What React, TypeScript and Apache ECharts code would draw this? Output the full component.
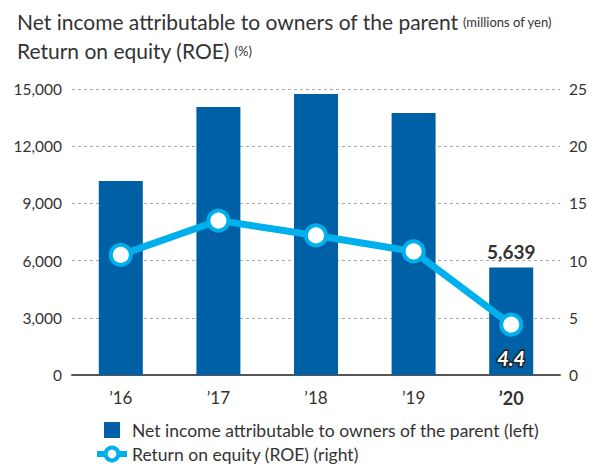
import React, { useEffect, useRef } from "react";
import * as echarts from "echarts";

const categories = ["’16", "’17", "’18", "’19", "’20"];
const netIncome = [10170, 14050, 14740, 13740, 5639];
const roe = [10.5, 13.5, 12.2, 10.8, 4.4];
const leftTicks = { min: 0, max: 15000, interval: 3000 };
const rightTicks = { min: 0, max: 25, interval: 5 };
const barName = "Net income attributable to owners of the parent (left)";
const lineName = "Return on equity (ROE) (right)";

const FONT = "Lato";
const BAR = "#0060a6";
const LINE = "#00b0ec";
const TXT = "#333333";

export default function App() {
  const ref = useRef<HTMLDivElement>(null);
  useEffect(() => {
    if (!ref.current) return;
    const chart = echarts.init(ref.current, undefined, { renderer: "svg" });
    const last = categories.length - 1;
    chart.setOption({
      animation: false,
      textStyle: { fontFamily: FONT, color: TXT },
      title: {
        left: 12,
        top: 2,
        text:
          "{a|Net income attributable to owners of the parent} {b|(millions of yen)}\n{a|Return on equity (ROE)} {b|(%)}",
        textStyle: {
          fontWeight: "normal",
          lineHeight: 29,
          rich: {
            a: { fontSize: 21, color: TXT, fontFamily: FONT, lineHeight: 29, fontWeight: "normal" },
            b: { fontSize: 13, color: TXT, fontFamily: FONT, lineHeight: 29, fontWeight: "normal" },
          },
        },
      },
      legend: {
        orient: "vertical",
        left: 94,
        top: 421,
        height: 46,
        padding: 0,
        itemWidth: 30,
        itemHeight: 16,
        itemGap: 6,
        textStyle: { fontSize: 17.5, color: TXT, fontFamily: FONT },
        data: [
          { name: barName, icon: "path://M0,0h16v16h-16z" },
          {
            name: lineName,
            lineStyle: { width: 6, color: LINE },
            itemStyle: { color: "#ffffff", borderColor: LINE, borderWidth: 4 },
          },
        ],
      },
      grid: { left: 72, right: 53, top: 89, bottom: 92 },
      xAxis: {
        type: "category",
        data: categories.map((c, i) =>
          i === last ? { value: c, textStyle: { fontWeight: "bold", fontSize: 18 } } : c
        ),
        axisLine: { lineStyle: { color: "#555", width: 2 } },
        axisTick: { show: false },
        axisLabel: { fontSize: 17, color: TXT, margin: 14, fontFamily: FONT },
      },
      yAxis: [
        {
          type: "value",
          ...leftTicks,
          axisLine: { show: false },
          axisTick: { show: false },
          axisLabel: {
            fontSize: 15.5,
            color: TXT,
            margin: 10,
            fontFamily: FONT,
            formatter: (v: number) => v.toLocaleString("en-US"),
          },
          splitLine: { lineStyle: { type: [3, 3], color: "#aaaaaa", width: 1 } },
        },
        {
          type: "value",
          ...rightTicks,
          axisLine: { show: false },
          axisTick: { show: false },
          axisLabel: { fontSize: 15.5, color: TXT, margin: 9, fontFamily: FONT },
          splitLine: { show: false },
        },
      ],
      series: [
        {
          name: barName,
          type: "bar",
          barWidth: 44,
          itemStyle: { color: BAR },
          data: netIncome.map((v, i) =>
            i === last
              ? {
                  value: v,
                  label: {
                    show: true,
                    position: "top",
                    distance: 6,
                    fontSize: 19,
                    fontWeight: "bold",
                    color: TXT,
                    fontFamily: FONT,
                    formatter: (p: any) => p.value.toLocaleString("en-US"),
                  },
                }
              : v
          ),
        },
        {
          name: lineName,
          type: "line",
          yAxisIndex: 1,
          symbol: "circle",
          symbolSize: 20,
          lineStyle: { color: LINE, width: 7 },
          itemStyle: { color: "#ffffff", borderColor: LINE, borderWidth: 4 },
          data: roe.map((v, i) =>
            i === last
              ? {
                  value: v,
                  label: {
                    show: true,
                    position: "bottom",
                    distance: 11,
                    fontSize: 20,
                    fontWeight: "bold",
                    fontStyle: "italic",
                    color: "#ffffff",
                    textBorderColor: "#222",
                    textBorderWidth: 3,
                    fontFamily: FONT,
                  },
                }
              : v
          ),
        },
      ],
    });
    return () => chart.dispose();
  }, []);
  return <div ref={ref} style={{ width: 613, height: 467, position: "absolute", left: 0, top: 0 }} />;
}
